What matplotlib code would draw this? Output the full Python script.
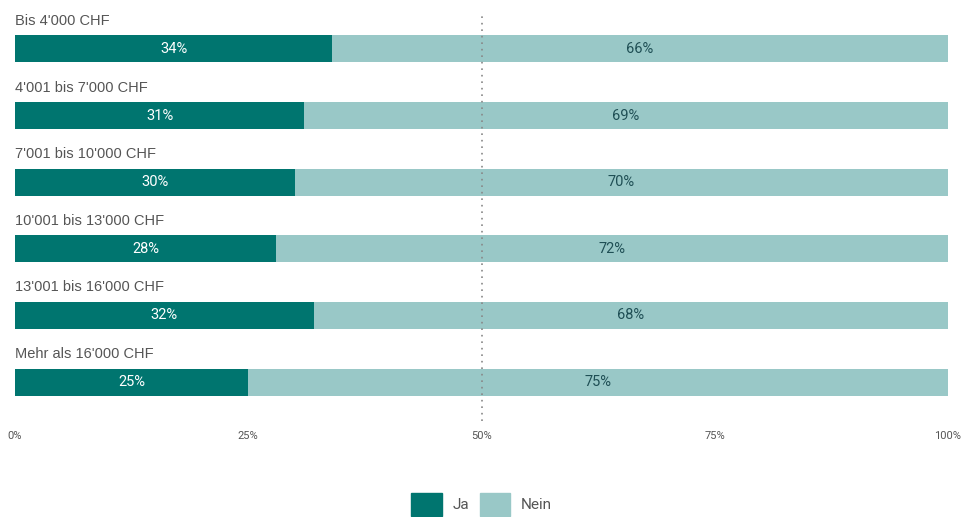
import matplotlib.pyplot as plt
from matplotlib.patches import Patch

categories = ["Bis 4'000 CHF", "4'001 bis 7'000 CHF", "7'001 bis 10'000 CHF",
              "10'001 bis 13'000 CHF", "13'001 bis 16'000 CHF", "Mehr als 16'000 CHF"]
ja = [34, 31, 30, 28, 32, 25]
nein = [66, 69, 70, 72, 68, 75]
xticks = [0, 25, 50, 75, 100]

c_ja = '#00756f'
c_nein = '#99c8c7'

fig = plt.figure(figsize=(9.63, 5.17), dpi=100)
ax = fig.add_axes([15 / 963, 96 / 517, 933 / 963, 407 / 517])

ypos = list(range(len(categories)))
ax.barh(ypos, ja, height=0.405, color=c_ja)
ax.barh(ypos, nein, left=ja, height=0.405, color=c_nein)

for y, cat, a, b in zip(ypos, categories, ja, nein):
    ax.text(0, y - 0.42, cat, ha='left', va='center', fontsize=10.5,
            family='Liberation Sans', color='#555555')
    ax.text(a / 2, y, f'{a}%', ha='center', va='center', fontsize=10.5,
            family='Roboto', color='white')
    ax.text(a + b / 2, y, f'{b}%', ha='center', va='center', fontsize=10.5,
            family='Roboto', color='#1f4f55')

ax.axvline(50, color='#888888', linestyle=(0, (1, 2.9)), linewidth=1.2, zorder=5)

ax.set_xlim(0, 100)
ax.set_ylim(5.585, -0.525)
ax.set_xticks(xticks)
ax.set_xticklabels([f'{t}%' for t in xticks], fontsize=8, family='Roboto', color='#555555')
ax.tick_params(axis='x', length=0, pad=7)
ax.set_yticks([])
for s in ax.spines.values():
    s.set_visible(False)

handles = [Patch(color=c_ja, label='Ja'), Patch(color=c_nein, label='Nein')]
leg = fig.legend(handles=handles, loc='lower center', bbox_to_anchor=(0.5, -0.012), ncol=2,
                 frameon=False, fontsize=11, handlelength=2.0, handleheight=1.85,
                 handletextpad=0.7, columnspacing=0.7, borderpad=0)
for t in leg.get_texts():
    t.set_color('#555555')
    t.set_family('Roboto')

fig.savefig('out.png', dpi=100)
